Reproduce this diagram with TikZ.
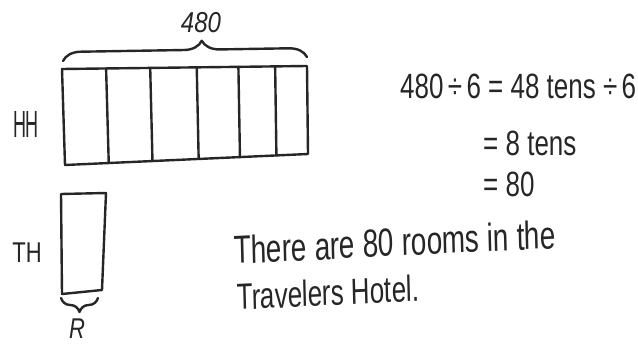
\documentclass[tikz,border=0pt]{standalone}
\usepackage{fontspec}
\setmainfont{Liberation Sans}
\usetikzlibrary{calc,decorations.pathreplacing}
\tikzset{
  pen/.style={line width=2.4pt, black!85, line join=round, line cap=round},
  hand/.style={font=\fontsize{#1}{#1}\selectfont, text=black!85, inner sep=0pt},
  curly/.style={pen, decorate, decoration={brace, amplitude=#1}},
}
\begin{document}
\begin{tikzpicture}[x=1pt,y=-1pt]
\useasboundingbox (0,0) rectangle (638,345);
% HH tape, split into 6 parts
\coordinate (hh-tl) at (62,69);
\coordinate (hh-tr) at (307,66);
\coordinate (hh-br) at (308,154);
\coordinate (hh-bl) at (65,165);
\draw[pen] (hh-tl) -- (hh-tr) -- (hh-br) -- (hh-bl) -- cycle;
\foreach \t in {0.18,0.36,0.55,0.72,0.87} {
  \draw[pen] ($(hh-tl)!\t!(hh-tr)$) -- ($(hh-bl)!\t!(hh-br)$);
}
% brace over the whole tape
\coordinate (top-l) at (63,61);
\coordinate (top-r) at (307,57);
\draw[curly=18pt, decoration={aspect=0.57}] (top-l) -- (top-r);
\node[hand=24, yscale=1.2] (total) at (201,23) {\itshape 480};
\node[hand=18, yscale=2.1] (hh) at (26,124) {HH};
% TH tape, one part
\coordinate (th-tl) at (61,194);
\coordinate (th-tr) at (106,193);
\coordinate (th-br) at (102,290);
\coordinate (th-bl) at (62,294);
\draw[pen] (th-tl) -- (th-tr) -- (th-br) -- (th-bl) -- cycle;
\coordinate (bot-r) at (98,298);
\coordinate (bot-l) at (61,298);
\draw[curly=14pt] (bot-r) -- (bot-l);
\node[hand=22, yscale=1.3] (th) at (27,253) {TH};
\node[hand=22, yscale=1.3] (rooms) at (77,329) {\itshape R};
% working
\node[hand=26, yscale=1.35, anchor=base west] (eq1) at (400,99) {480\,÷\,6 = 48 tens ÷\,6};
\node[hand=26, yscale=1.35, anchor=base west] (eq2) at (483,155) {= 8 tens};
\node[hand=26, yscale=1.35, anchor=base west] (eq3) at (483,196) {= 80};
% answer
\node[hand=28, yscale=1.4, rotate=2, anchor=base west] (ans1) at (234,264) {There are 80 rooms in the};
\node[hand=26, yscale=1.4, rotate=2, anchor=base west] (ans2) at (237,310) {Travelers Hotel.};
\end{tikzpicture}
\end{document}
